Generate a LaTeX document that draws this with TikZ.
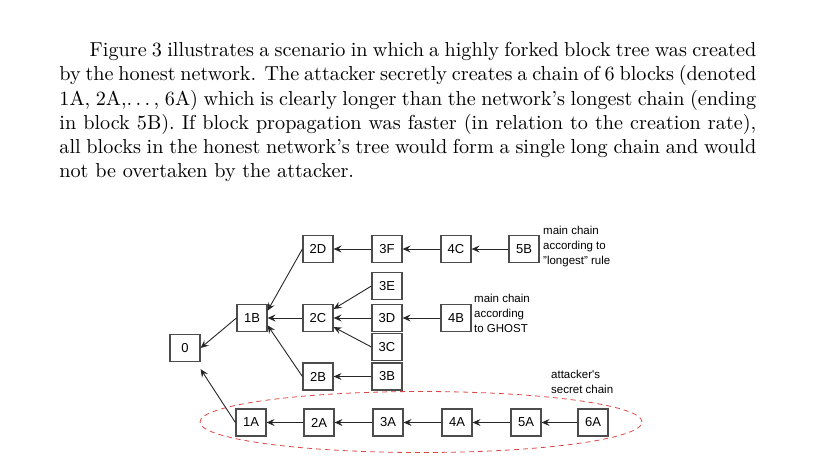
\documentclass[tikz,border=0pt]{standalone}
\usepackage{fontspec}
\setsansfont{Liberation Sans}
\usetikzlibrary{arrows.meta}
\definecolor{chainred}{RGB}{222,70,70}

\begin{document}
\begin{tikzpicture}
            [
            x=1pt, y=-1pt,
            >={Stealth[length=8pt,width=7pt,inset=3pt]},
            block/.style={draw=black!70, line width=1.2pt, fill=white,
                minimum width=30pt, minimum height=27pt, inner sep=0pt,
                font={\fontsize{13}{13}\sffamily}},
            link/.style={->, black!85, line width=0.9pt},
            note/.style={font={\fontsize{11.5}{15}\sffamily}, align=left,
                anchor=west, inner sep=2pt},
            ]
            \useasboundingbox (0,0) rectangle (817,467);
            % Text above the figure
            \node[anchor=north west, inner sep=0pt, scale=2.02, text width=345pt,
                align=justify] (para) at (59,42)
                {\noindent\hspace*{15pt}Figure 3 illustrates a scenario in which a highly forked block tree was created\linebreak
                by the honest network. The attacker secretly creates a chain of 6 blocks (denoted\linebreak
                1A, 2A,.\kern\fontdimen3\font.\kern\fontdimen3\font.\kern\fontdimen3\font, 6A) which is clearly longer than the network's longest chain (ending\linebreak
                in block 5B). If block propagation was faster (in relation to the creation rate),\linebreak
                all blocks in the honest network's tree would form a single long chain and would\linebreak
                not be overtaken by the attacker.};

            % Secret chain marker
            \draw[chainred, line width=0.8pt, dash pattern=on 5pt off 4pt]
                (421,422) ellipse [x radius=221pt, y radius=30.5pt];

            % Honest tree
            \node[block] (b0) at (185,348) {0};
            \node[block] (b1B) at (252,318) {1B};
            \node[block] (b2D) at (318,249) {2D};
            \node[block] (b2C) at (318,318) {2C};
            \node[block] (b2B) at (318,376.5) {2B};
            \node[block] (b3F) at (387,249) {3F};
            \node[block] (b3E) at (387,286) {3E};
            \node[block] (b3D) at (387,318) {3D};
            \node[block] (b3C) at (387,347) {3C};
            \node[block] (b3B) at (387,376.5) {3B};
            \node[block] (b4C) at (456,249) {4C};
            \node[block] (b4B) at (456,318) {4B};
            \node[block] (b5B) at (524,249) {5B};

            % Attacker blocks
            \node[block] (b1A) at (251,422.5) {1A};
            \node[block] (b2A) at (319,422.5) {2A};
            \node[block] (b3A) at (388,422.5) {3A};
            \node[block] (b4A) at (457,422.5) {4A};
            \node[block] (b5A) at (526,422.5) {5A};
            \node[block] (b6A) at (593,422.5) {6A};

            % Links
            \draw[link] (b1B.west) -- (b0.east);
            \draw[link] (b1A.west) -- ([yshift=-7pt]b0.south east);
            \draw[link] (b2D.west) -- (b1B.25);
            \draw[link] (b2C) -- (b1B);
            \draw[link] (b2B.west) -- (b1B.-25);
            \draw[link] (b3F) -- (b2D);
            \draw[link] (b3E.west) -- (b2C.30);
            \draw[link] (b3D) -- (b2C);
            \draw[link] (b3C.west) -- (b2C.-30);
            \draw[link] (b3B) -- (b2B);
            \draw[link] (b4C) -- (b3F);
            \draw[link] (b4B) -- (b3D);
            \draw[link] (b5B) -- (b4C);
            \draw[link] (b2A) -- (b1A);
            \draw[link] (b3A) -- (b2A);
            \draw[link] (b4A) -- (b3A);
            \draw[link] (b5A) -- (b4A);
            \draw[link] (b6A) -- (b5A);

            % Notes
            \node[note] (longest) at (541,247) {main chain\\according to\\"longest" rule};
            \node[note] (ghost) at (472,313) {main chain\\according\\to GHOST};
            \node[note] (secret) at (549,382) {attacker\textquotesingle s\\secret chain};
        \end{tikzpicture}
\end{document}
